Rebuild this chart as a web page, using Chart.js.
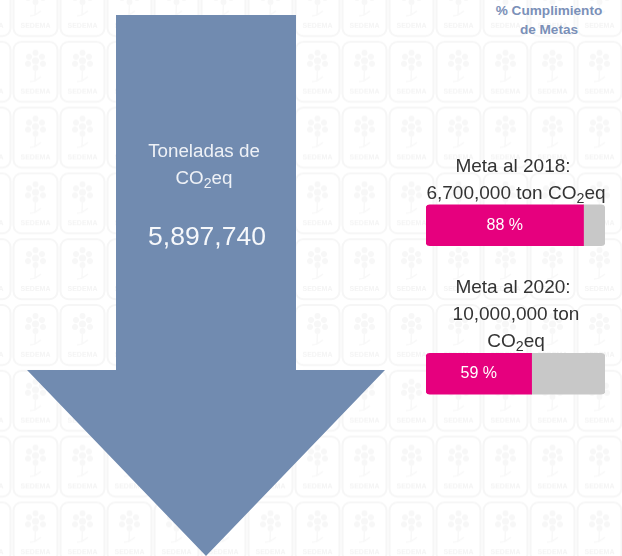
<!DOCTYPE html>
<html>
<head>
<meta charset="utf-8">
<script src="https://cdn.jsdelivr.net/npm/chart.js@4"></script>
<style>
html, body { margin: 0; padding: 0; }
body {
    width: 622px;
    height: 556px;
    position: relative;
    overflow: hidden;
    background-color: #fff;
    font-family: "Liberation Sans", Arial, sans-serif;
}
#tiles { position: absolute; left: 0; top: 0; }
canvas { position: absolute; }
#arrowChart { left: 0; top: 15px; }
#goalChart { left: 426px; top: 151px; }
.txt { position: absolute; text-align: center; white-space: nowrap; }
.txt sub { font-size: 75%; line-height: 0; vertical-align: -4px; }
.title { left: 449px; width: 200px; top: 2px; font-size: 13.6px; line-height: 18.5px; font-weight: bold; color: #7b90b8; }
.unit { left: 104px; width: 200px; top: 137px; font-size: 18.8px; line-height: 27px; color: #eef1f6; }
.total { left: 107px; width: 200px; top: 220px; font-size: 26.5px; line-height: 32px; color: #f6f8fb; }
.goal { left: 416px; width: 200px; font-size: 19px; line-height: 27px; color: #333; }
.goal span { position: relative; left: -3px; }
</style>
</head>
<body>
<svg id="tiles" width="622" height="556" xmlns="http://www.w3.org/2000/svg">
    <defs>
        <pattern id="tile" x="12" y="-27" width="47" height="65.8" patternUnits="userSpaceOnUse">
            <rect x="1.5" y="3" width="44" height="60" rx="8" fill="none" stroke="#f6f6f6" stroke-width="2"/>
            <g fill="#f7f7f7">
                <circle cx="23.5" cy="14" r="3"/>
                <circle cx="17" cy="18" r="3"/>
                <circle cx="30" cy="18" r="3"/>
                <circle cx="16" cy="25" r="3"/>
                <circle cx="31" cy="25" r="3"/>
                <circle cx="23.5" cy="22" r="3.5"/>
                <circle cx="23.5" cy="29" r="3"/>
            </g>
            <path d="M23.5 30 L23 42 M18 43 L23 42 L29 38" fill="none" stroke="#f8f8f8" stroke-width="1.5"/>
            <text x="23.5" y="55" text-anchor="middle" font-family="Liberation Sans" font-weight="bold" font-size="7" fill="#f4f4f4">SEDEMA</text>
        </pattern>
    </defs>
    <rect width="622" height="556" fill="url(#tile)"/>
</svg>

<canvas id="arrowChart" width="412" height="541"></canvas>
<canvas id="goalChart" width="179" height="297"></canvas>

<div class="txt title">% Cumplimiento<br>de Metas</div>
<div class="txt unit">Toneladas de<br>CO<sub>2</sub>eq</div>
<div class="txt total">5,897,740</div>
<div class="txt goal" style="top:152px"><span>Meta al 2018:</span><br>6,700,000 ton CO<sub>2</sub>eq</div>
<div class="txt goal" style="top:273px"><span>Meta al 2020:</span><br>10,000,000 ton<br>CO<sub>2</sub>eq</div>

<script>
const totalLabels = ['Toneladas de CO2eq'];
const totalValues = [5897740];

const goalLabels = ['Meta al 2018', 'Meta al 2020'];
const goalDone = [88, 59];
const goalLeft = [12, 41];

// arrow is the bar itself, the head starts at this share of its length
const headStart = 0.656;

const arrowShape = {
    id: 'arrowShape',
    afterDatasetsDraw(chart) {
        const bar = chart.getDatasetMeta(0).data[0];
        const c = chart.ctx;
        const half = bar.width / 2;
        const neck = bar.base + (bar.y - bar.base) * headStart;
        c.save();
        c.fillStyle = '#718bb0';
        c.beginPath();
        c.moveTo(bar.x - half, bar.base);
        c.lineTo(bar.x + half, bar.base);
        c.lineTo(bar.x + half, neck);
        c.lineTo(bar.x + 179, neck);
        c.lineTo(bar.x, bar.y);
        c.lineTo(bar.x - 179, neck);
        c.lineTo(bar.x - half, neck);
        c.closePath();
        c.fill();
        c.restore();
    }
};

new Chart(document.getElementById('arrowChart'), {
    type: 'bar',
    data: {
        labels: totalLabels,
        datasets: [{
            data: totalValues,
            barThickness: 180,
            backgroundColor: 'rgba(0,0,0,0)',
        }],
    },
    plugins: [arrowShape],
    options: {
        responsive: false,
        animation: false,
        plugins: {
            legend: { display: false },
            tooltip: { enabled: false },
        },
        scales: {
            x: { display: false },
            y: { display: false, reverse: true, min: 0, max: totalValues[0] },
        },
    },
});

const percentText = {
    id: 'percentText',
    afterDatasetsDraw(chart) {
        const c = chart.ctx;
        c.save();
        c.fillStyle = '#ffffff';
        c.font = '16px "Liberation Sans"';
        c.textAlign = 'center';
        c.textBaseline = 'middle';
        chart.getDatasetMeta(0).data.forEach((bar, i) => {
            c.fillText(goalDone[i] + ' %', (bar.x + bar.base) / 2, bar.y);
        });
        c.restore();
    }
};

new Chart(document.getElementById('goalChart'), {
    type: 'bar',
    data: {
        labels: goalLabels,
        datasets: [
            {
                data: goalDone,
                barThickness: 41,
                backgroundColor: '#e6007e',
                borderRadius: { topLeft: 4, bottomLeft: 4 },
                borderSkipped: false,
            },
            {
                data: goalLeft,
                barThickness: 41,
                backgroundColor: '#c8c8c8',
                borderRadius: { topRight: 4, bottomRight: 4 },
                borderSkipped: false,
            },
        ],
    },
    plugins: [percentText],
    options: {
        indexAxis: 'y',
        responsive: false,
        animation: false,
        plugins: {
            legend: { display: false },
            tooltip: { enabled: false },
        },
        scales: {
            x: { display: false, stacked: true, min: 0, max: 100 },
            y: { display: false, stacked: true },
        },
    },
});
</script>
</body>
</html>
